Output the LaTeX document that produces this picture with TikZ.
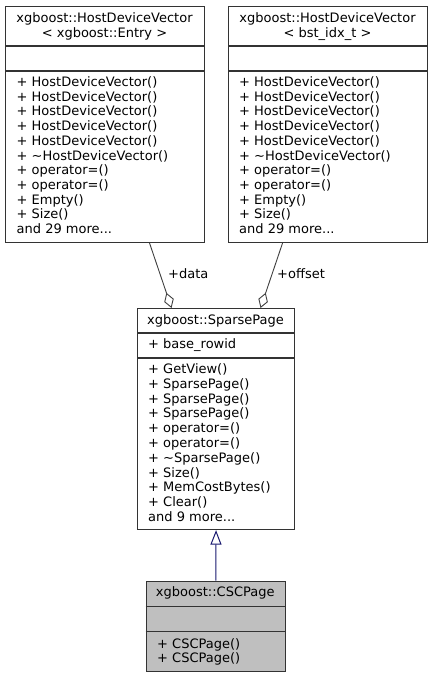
\documentclass[tikz,border=0pt]{standalone}
\usepackage{fontspec}
\setmainfont{DejaVu Sans}
\usetikzlibrary{arrows.meta}
\definecolor{edgegrey}{HTML}{404040}
\definecolor{navyline}{HTML}{191970}
\definecolor{boxline}{HTML}{333333}
\definecolor{cscfill}{HTML}{BFBFBF}
\newcommand{\mydots}{...}
\begin{document}
\begin{tikzpicture}[x=1pt,y=-1pt,
  classbox/.style={draw=boxline, line width=1.1pt, inner sep=0pt, anchor=north west, rectangle},
  divider/.style={draw=boxline, line width=1.1pt},
  txt/.style={font=\fontsize{13}{14.7}\selectfont, inner sep=0pt, anchor=base west},
  ttl/.style={font=\fontsize{13}{14.7}\selectfont, inner sep=0pt, anchor=base},
  assoc/.style={draw=edgegrey, line width=0.9pt, -{Diamond[fill=white, length=16pt, width=10pt, line width=0.9pt]}},
  inherit/.style={draw=navyline, line width=1pt, -{Triangle[fill=white, length=14.5pt, width=11pt, line width=1pt]}},
  lbl/.style={font=\fontsize{13}{14.7}\selectfont, inner sep=0pt, anchor=base west}
]
\useasboundingbox[fill=white] (0,0) rectangle (432,677);

% ---- HostDeviceVector<Entry>
\node[classbox, minimum width=199pt, minimum height=236pt] (hdv1) at (5,6) {};
\draw[divider] (5,46) -- (204,46);
\draw[divider] (5,71) -- (204,71);
\node[ttl] (hdv1t1) at (104.5,22.5) {xgboost::HostDeviceVector};
\node[ttl] (hdv1t2) at (104.5,37.5) {< xgboost::Entry >};
\foreach \t [count=\i from 0] in {+ HostDeviceVector(),+ HostDeviceVector(),+ HostDeviceVector(),+ HostDeviceVector(),+ HostDeviceVector(),+ \textasciitilde HostDeviceVector(),+ operator=(),+ operator=(),+ Empty(),+ Size(),and 29 more\mydots}
  \node[txt] (hdv1m\i) at (16.5,86.5+14.7*\i) {\t};

% ---- HostDeviceVector<bst_idx_t>
\node[classbox, minimum width=199pt, minimum height=236pt] (hdv2) at (228,6) {};
\draw[divider] (228,46) -- (427,46);
\draw[divider] (228,71) -- (427,71);
\node[ttl] (hdv2t1) at (327.5,22.5) {xgboost::HostDeviceVector};
\node[ttl] (hdv2t2) at (327.5,37.5) {< bst\_idx\_t >};
\foreach \t [count=\i from 0] in {+ HostDeviceVector(),+ HostDeviceVector(),+ HostDeviceVector(),+ HostDeviceVector(),+ HostDeviceVector(),+ \textasciitilde HostDeviceVector(),+ operator=(),+ operator=(),+ Empty(),+ Size(),and 29 more\mydots}
  \node[txt] (hdv2m\i) at (239,86.5+14.7*\i) {\t};

% ---- SparsePage
\node[classbox, minimum width=157pt, minimum height=221pt] (sp) at (137,308) {};
\draw[divider] (137,333) -- (294,333);
\draw[divider] (137,358) -- (294,358);
\node[ttl] (spt) at (215.5,324) {xgboost::SparsePage};
\node[txt] (spa) at (148,348.5) {+ base\_rowid};
\foreach \t [count=\i from 0] in {+ GetView(),+ SparsePage(),+ SparsePage(),+ SparsePage(),+ operator=(),+ operator=(),+ \textasciitilde SparsePage(),+ Size(),+ MemCostBytes(),+ Clear(),and 9 more\mydots}
  \node[txt] (spm\i) at (148,373.5+14.8*\i) {\t};

% ---- CSCPage
\node[classbox, fill=cscfill, minimum width=139.5pt, minimum height=90.5pt] (csc) at (145.5,580.5) {};
\draw[divider] (145.5,606.5) -- (285,606.5);
\draw[divider] (145.5,631.5) -- (285,631.5);
\node[ttl] (csct) at (215.25,596.5) {xgboost::CSCPage};
\node[txt] (cscm0) at (157,648) {+ CSCPage()};
\node[txt] (cscm1) at (157,662.5) {+ CSCPage()};

% ---- edges
\draw[assoc] ([xshift=44.5pt]hdv1.south) -- ([xshift=-44.5pt]sp.north);
\draw[assoc] ([xshift=-45.5pt]hdv2.south) -- ([xshift=44.5pt]sp.north);
\node[lbl] (ldata) at (168,278.5) {+data};
\node[lbl] (loffset) at (277,278.5) {+offset};
\draw[inherit] (csc.north) -- (sp.south);
\end{tikzpicture}
\end{document}
